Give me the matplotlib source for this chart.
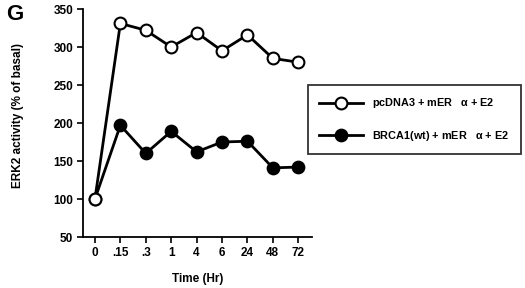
import matplotlib
matplotlib.use("Agg")
import matplotlib.pyplot as plt

plt.rcParams['font.family'] = ['Liberation Sans', 'DejaVu Sans']
plt.rcParams['font.weight'] = 'bold'

time_labels = ["0", ".15", ".3", "1", "4", "6", "24", "48", "72"]
pcdna3 = [100, 331, 322, 300, 319, 295, 316, 285, 280]
brca1 = [100, 197, 160, 189, 162, 175, 176, 141, 142]
y_ticks = [50, 100, 150, 200, 250, 300, 350]
label_open = "pcDNA3 + mER   $\\mathregular{\\alpha}$ + E2"
label_filled = "BRCA1(wt) + mER   $\\mathregular{\\alpha}$ + E2"

fig = plt.figure(figsize=(5.25, 2.88), dpi=100)
ax = fig.add_axes([83/525, 1-237/288, (312-83)/525, (237-9)/288])

x = list(range(len(time_labels)))
l2, = ax.plot(x, brca1, color='black', lw=2.0, marker='o', ms=8.5,
              mfc='black', mec='black', mew=1.4, label=label_filled, zorder=3)
l1, = ax.plot(x, pcdna3, color='black', lw=2.0, marker='o', ms=8.5,
              mfc='white', mec='black', mew=1.5, label=label_open, zorder=4)

ax.set_xlim(-0.47, 8.54)
ax.set_ylim(50, 350)
ax.set_xticks(x)
ax.set_xticklabels(time_labels)
ax.set_yticks(y_ticks)
for s in ['top', 'right']:
    ax.spines[s].set_visible(False)
for s in ['left', 'bottom']:
    ax.spines[s].set_linewidth(1.3)
ax.tick_params(axis='both', direction='out', length=4, width=1.2, labelsize=8.5, pad=3)
for t in ax.get_xticklabels() + ax.get_yticklabels():
    t.set_fontweight('bold')

ax.set_xlabel("Time (Hr)", fontsize=8.5, fontweight='bold', labelpad=10)
fig.text(18/525, 1-115/288, "ERK2 activity (% of basal)", rotation=90,
         ha='center', va='center', fontsize=8.5, fontweight='bold')
fig.text(6/525, 1-15/288, "G", fontsize=16, fontweight='bold', ha='left', va='center')

leg = fig.legend(handles=[l1, l2], loc='upper left',
                 bbox_to_anchor=(308/525, 1-85/288), bbox_transform=fig.transFigure,
                 fancybox=False, frameon=True, edgecolor='black', fontsize=7.8,
                 handlelength=4.0, handletextpad=0.9, labelspacing=1.7,
                 borderpad=1.05, borderaxespad=0)
leg.get_frame().set_linewidth(1.3)
for t in leg.get_texts():
    t.set_fontweight('bold')

fig.savefig("out.png", dpi=100)
